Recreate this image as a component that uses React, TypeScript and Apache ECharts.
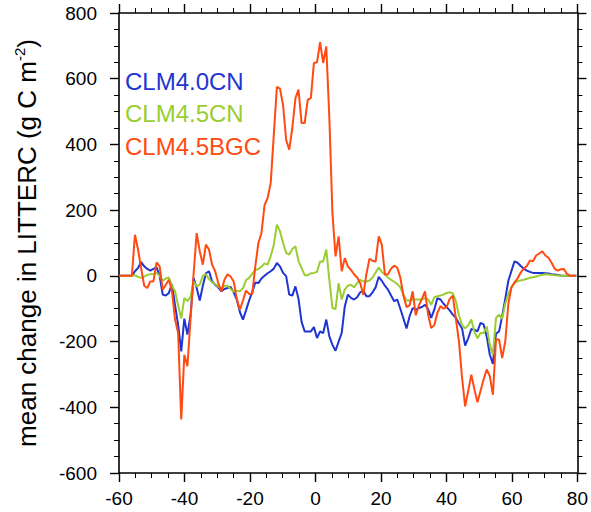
import React, { useEffect, useRef } from "react";
import * as echarts from "echarts";

// Model latitude grid (f09: 192 rows from -90 to 90); points 32..180 cover -60..80
const GRID_START_INDEX = 32;
const GRID_COUNT = 149;
const LAT = Array.from({ length: GRID_COUNT }, (_, k) => -90 + ((k + GRID_START_INDEX) * 180) / 191);

const SERIES_NAMES = ["CLM4.0CN", "CLM4.5CN", "CLM4.5BGC"];

// CLM4.0CN
const CLM40CN = [
  0, 0, 0, 0, 0, 14, 24, 42, 29, 21,
  16, 21, 26, 0, -57, -60, -52, -25, -90, -150,
  -230, -130, -179, -120, -6, -37, -75, -30, 8, 14,
  -17, -27, -35, -47, -40, -37, -34, -50, -72, -110,
  -133, -105, -75, -50, -20, -22, -8, 0, 8, 14,
  22, 39, 29, 9, -1, -57, -60, -32, -70, -140,
  -169, -169, -169, -156, -189, -169, -174, -133, -184, -210,
  -228, -200, -174, -93, -57, -67, -72, -65, -50, -45,
  -62, -62, -50, -35, -3, -15, -30, -42, -60, -77,
  -72, -100, -130, -160, -123, -98, -103, -98, -95, -88,
  -101, -128, -103, -68, -72, -85, -95, -105, -118, -128,
  -145, -160, -212, -190, -162, -164, -169, -143, -148, -185,
  -240, -268, -176, -169, -123, -70, -15, 15, 44, 40,
  30, 22, 16, 12, 9, 9, 9, 9, 8, 7,
  5, 4, 3, 1, 0, 0, 0, 0, 0,
];

// CLM4.5CN
const CLM45CN = [
  0, 0, 0, 0, 0, 2, -3, -6, -2, 3,
  5, 6, 9, 0, -15, -8, -5, -30, -47, -90,
  -130, -67, -77, -65, -17, -32, -27, 0, 5, -10,
  -20, -25, -32, -40, -30, -30, -40, -48, -45, -47,
  -38, -13, -6, 6, 18, 21, 28, 38, 34, 60,
  95, 156, 136, 100, 70, 65, 82, 90, 45, 24,
  2, 2, 8, 9, 12, 44, 44, 80, -12, -98,
  -101, -22, -72, -42, -30, -27, -35, -22, -12, -17,
  -17, -14, -5, 10, 25, 12, 4, -5, -12, -18,
  -25, -35, -57, -75, -75, -72, -72, -72, -72, -68,
  -72, -88, -65, -62, -60, -57, -52, -50, -53, -77,
  -120, -150, -160, -150, -133, -170, -190, -174, -174, -154,
  -210, -240, -128, -118, -131, -85, -55, -35, -22, -16,
  -14, -12, -9, -6, -4, -2, 1, 3, 5, 4,
  3, 2, 1, 0, 0, 0, 0, 0, 0,
];

// CLM4.5BGC
const CLM45BGC = [
  0, 0, 0, 0, 0, 125, 80, 24, -30, -37,
  -17, -17, 41, 29, -42, -27, -12, -47, -133, -174,
  -437, -240, -275, -133, 5, 130, 75, 34, 95, 80,
  34, 14, -22, -47, -12, 5, -2, -17, -70, -103,
  -75, -45, -55, -55, 29, 100, 130, 215, 237, 283,
  430, 575, 570, 520, 414, 384, 450, 540, 567, 465,
  465, 536, 541, 648, 650, 711, 648, 698, 480, 190,
  59, 120, 14, 54, 29, 18, 5, -5, -22, -58,
  5, 52, 46, 44, 120, 95, 4, 5, 22, 31,
  25, -5, -60, -95, -90, -47, -120, -90, -70, -47,
  -118, -159, -150, -113, -92, -100, -95, -70, -60, -130,
  -200, -310, -397, -350, -301, -345, -385, -350, -315, -285,
  -306, -362, -194, -194, -250, -200, -85, -35, -20, -8,
  10, 22, 30, 47, 44, 62, 68, 75, 62, 55,
  40, 22, 16, 20, 21, 6, 0, 0, 0,
];

const X_TICKS = { min: -60, max: 80, interval: 20 };
const Y_TICKS = { min: -600, max: 800, interval: 200 };

const COLORS = ["#1f35d2", "#9acd32", "#ff4a12"];
const FONT = "Liberation Sans, Arial, Helvetica, sans-serif";

export default function App() {
  const ref = useRef<HTMLDivElement>(null);

  useEffect(() => {
    if (!ref.current) return;
    const chart = echarts.init(ref.current, undefined, { renderer: "svg" });

    const values = [CLM40CN, CLM45CN, CLM45BGC];

    const axisCommon = {
      type: "value" as const,
      axisLine: { show: true, onZero: false, lineStyle: { color: "#000", width: 1.6 } },
      axisTick: { show: true, inside: false, length: 9, lineStyle: { color: "#000", width: 1.4 } },
      minorTick: { show: true, splitNumber: 4, length: 5, lineStyle: { color: "#000", width: 1 } },
      splitLine: { show: false },
      minorSplitLine: { show: false },
    };

    const xBase = { ...axisCommon, min: X_TICKS.min, max: X_TICKS.max, interval: X_TICKS.interval };
    const yBase = { ...axisCommon, min: Y_TICKS.min, max: Y_TICKS.max, interval: Y_TICKS.interval };

    const labelStyle = { color: "#000", fontSize: 19, fontFamily: FONT };

    chart.setOption({
      animation: false,
      backgroundColor: "#fff",
      textStyle: { fontFamily: FONT },
      grid: { left: 119, right: 13, top: 13, bottom: 39, containLabel: false },
      xAxis: [
        { ...xBase, position: "bottom", axisLabel: { ...labelStyle, margin: 16 } },
        { ...xBase, position: "top", axisLabel: { show: false } },
      ],
      yAxis: [
        { ...yBase, position: "left", axisLabel: { ...labelStyle, margin: 22 } },
        { ...yBase, position: "right", axisLabel: { show: false } },
      ],
      legend: {
        show: true,
        orient: "vertical",
        left: 115,
        top: 64,
        icon: "none",
        itemWidth: 0,
        itemHeight: 0,
        itemGap: 8.5,
        selectedMode: false,
        textStyle: { fontSize: 24, fontFamily: FONT, lineHeight: 24 },
        data: SERIES_NAMES.map((n, i) => ({ name: n, textStyle: { color: COLORS[i] } })),
      },
      graphic: [
        {
          type: "text",
          x: 27,
          y: 243,
          rotation: Math.PI / 2,
          style: {
            text: "mean change in LITTERC (g C m{sup|-2})",
            font: `26px ${FONT}`,
            fill: "#000",
            align: "center",
            verticalAlign: "middle",
            lineHeight: 30,
            rich: {
              sup: { fontSize: 15, fontFamily: FONT, verticalAlign: "top", lineHeight: 15, fill: "#000" },
            },
          },
        },
      ],
      series: SERIES_NAMES.map((name, i) => ({
        name,
        type: "line",
        xAxisIndex: 0,
        yAxisIndex: 0,
        showSymbol: false,
        symbol: "none",
        lineStyle: { color: COLORS[i], width: 2 },
        itemStyle: { color: COLORS[i] },
        data: LAT.map((lat, k) => [lat, values[i][k]]),
        z: 2 + i,
      })),
    });

    return () => chart.dispose();
  }, []);

  return (
    <div
      ref={ref}
      style={{ position: "absolute", left: 0, top: 0, width: 591, height: 512, background: "#fff" }}
    />
  );
}
